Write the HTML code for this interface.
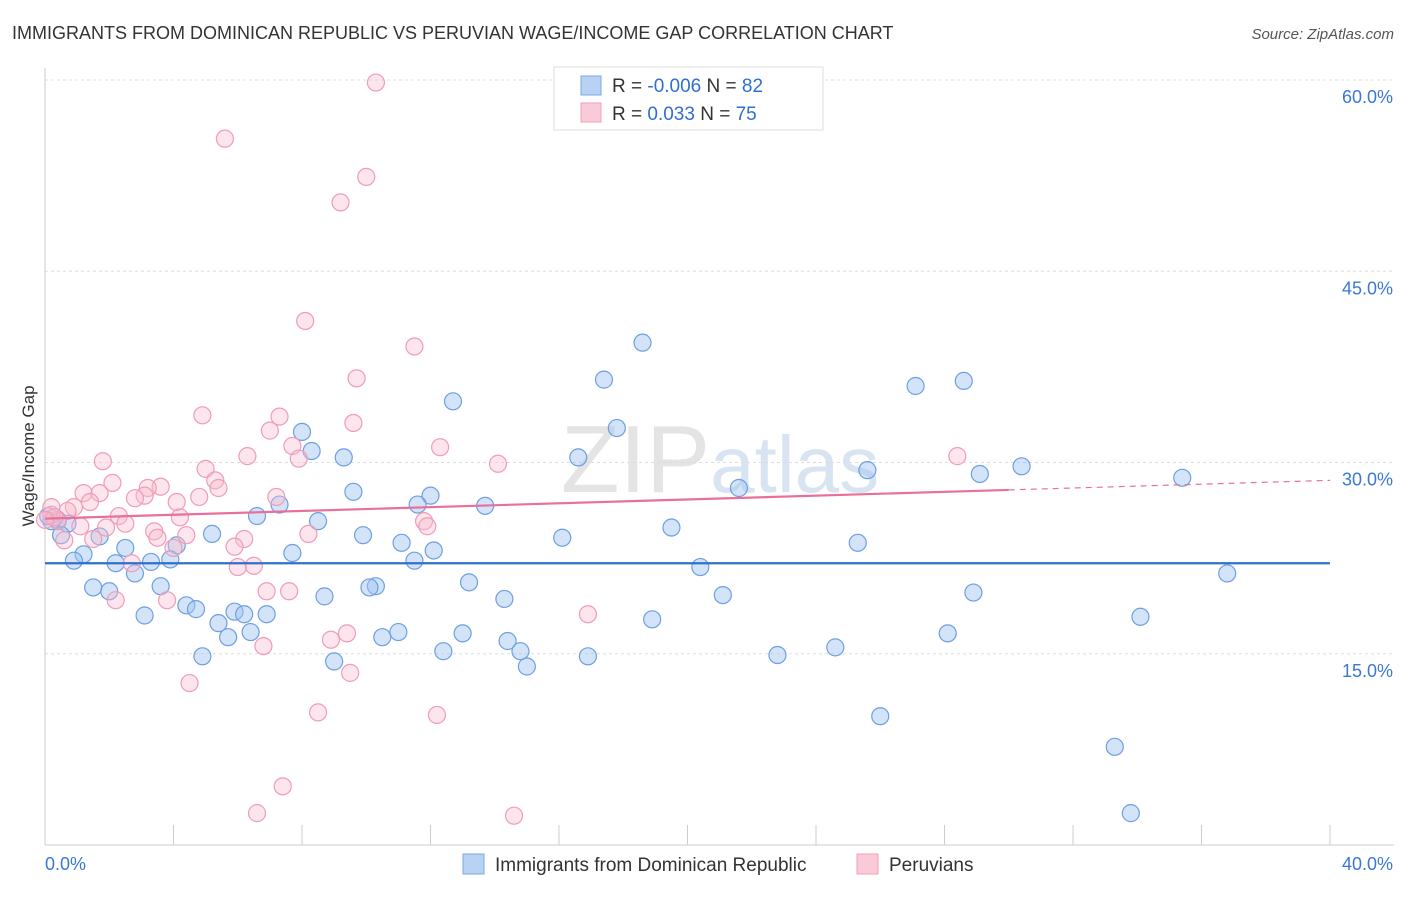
<!DOCTYPE html>
<html><head><meta charset="utf-8">
<style>
body{margin:0;background:#fff;font-family:"Liberation Sans",sans-serif;}
svg text{font-family:"Liberation Sans",sans-serif;}
</style></head>
<body>
<svg id="chart" width="1406" height="892" xmlns="http://www.w3.org/2000/svg">
<text x="12" y="39" font-size="18" fill="#333">IMMIGRANTS FROM DOMINICAN REPUBLIC VS PERUVIAN WAGE/INCOME GAP CORRELATION CHART</text>
<text x="1394" y="39" font-size="15" fill="#555" text-anchor="end" font-style="italic">Source: ZipAtlas.com</text>
<text x="720" y="492" font-size="96" fill="#e4e4e4" text-anchor="middle" font-family="Liberation Serif">ZIP<tspan fill="#d8e4f2" font-family="Liberation Sans" font-size="80">atlas</tspan></text>
<g id="grid"></g>
<g id="axes"></g>
<g id="pts"></g>
<g id="trends"></g>
<text transform="translate(34,456) rotate(-90)" font-size="17" fill="#333" text-anchor="middle">Wage/Income Gap</text>
<g>
<rect x="554" y="67" width="269" height="63" fill="#fff" stroke="#ddd"/>
<rect x="581" y="76" width="20" height="19" fill="#b8d2f4" stroke="#7aa7e3"/>
<rect x="581" y="103" width="20" height="19" fill="#fbcad8" stroke="#f0a0b8"/>
<text x="612" y="92" font-size="19" fill="#333">R = <tspan fill="#2f6fd0">-0.006</tspan>   N = <tspan fill="#2f6fd0">82</tspan></text>
<text x="612" y="120" font-size="19" fill="#333">R =  <tspan fill="#2f6fd0">0.033</tspan>   N = <tspan fill="#2f6fd0">75</tspan></text>
</g>
<g>
<rect x="463" y="854" width="21" height="20" fill="#b8d2f4" stroke="#7aa7e3"/>
<text x="495" y="871" font-size="19" fill="#333">Immigrants from Dominican Republic</text>
<rect x="857" y="854" width="21" height="20" fill="#fbcad8" stroke="#f0a0b8"/>
<text x="889" y="871" font-size="19" fill="#333">Peruvians</text>
</g>
</svg>
<script>
const yTicks=[15,30,45,60];
const yTickLabels=["15.0%","30.0%","45.0%","60.0%"];
const xTickLabels=["0.0%","40.0%"];
const blueX=[8.0,8.3,9.3,9.6,12.7,12.0,11.6,13.7,9.9,11.1,12.1,11.5,13.2,10.3,10.1,8.7,14.3,13.0,11.0,10.5,12.4,14.4,14.8,15.0,16.9,9.0,18.6,17.4,17.8,16.6,16.1,19.5,20.4,21.1,21.6,18.9,22.8,24.6,25.3,25.6,26.0,27.1,28.6,29.1,30.4,28.9,28.1,34.1,33.3,33.8,35.4,36.8,6.6,7.3,8.5,7.7,5.2,4.1,3.9,3.6,4.4,4.7,5.4,5.7,5.9,6.2,6.4,6.9,4.9,3.3,3.1,2.8,2.5,2.2,2.0,1.5,1.7,1.2,0.9,0.7,0.4,0.5,0.2,0.1];
const blueY=[32.4,30.9,30.4,27.7,34.8,27.4,26.7,26.6,24.3,23.7,23.1,22.3,20.6,20.3,20.2,19.5,19.3,16.6,16.7,16.3,15.2,16.0,15.2,14.0,14.8,14.4,39.4,36.5,32.7,30.4,24.1,24.9,21.8,19.6,28.0,17.7,14.9,15.5,23.7,29.4,10.1,36.0,36.4,29.1,29.7,19.8,16.6,17.9,7.7,2.5,28.8,21.3,25.8,26.7,25.4,22.9,24.4,23.5,22.4,20.3,18.8,18.5,17.4,16.3,18.3,18.1,16.7,18.1,14.8,22.2,18.0,21.3,23.3,22.1,19.9,20.2,24.2,22.8,22.3,25.2,25.5,24.3,25.4,25.8];
const pinkX=[10.3,5.6,10.0,9.2,8.1,11.5,9.7,4.9,7.3,9.6,7.0,12.3,7.7,6.3,7.9,14.1,1.8,5.0,2.1,3.6,5.3,5.4,3.2,3.1,2.8,4.8,1.2,1.7,7.2,1.4,4.1,0.9,0.7,2.3,4.2,2.5,1.9,1.1,0.4,0.2,11.8,11.9,8.2,3.4,3.5,4.4,6.2,5.9,1.5,0.6,4.0,2.7,6.5,6.0,6.9,7.6,2.2,3.8,16.9,9.4,8.9,6.8,9.5,4.5,8.5,12.2,7.4,6.6,14.6,28.4,0.2,0.3,0.0];
const pinkY=[59.8,55.4,52.4,50.4,41.1,39.1,36.6,33.7,33.6,33.1,32.5,31.2,31.3,30.5,30.3,29.9,30.1,29.5,28.4,28.1,28.6,28.0,28.0,27.4,27.2,27.3,27.6,27.6,27.3,26.9,26.9,26.5,26.2,25.8,25.7,25.2,24.9,25.0,25.4,25.9,25.4,25.0,24.4,24.6,24.1,24.3,24.0,23.4,24.0,23.9,23.3,22.1,21.9,21.8,19.9,19.9,19.2,19.2,18.1,16.6,16.1,15.6,13.5,12.7,10.4,10.2,4.6,2.5,2.3,30.5,26.5,25.7,25.5];
const blueTrend=[22.1,22.1];
const pinkTrend=[25.6,28.6];
const pinkSolidEnd=30.0;

const NS="http://www.w3.org/2000/svg";
const X0=45,X1=1330,Y0=845,Y60=80;
const sx=v=>X0+(v/40)*(X1-X0);
const sy=v=>Y0-(v/60)*(Y0-Y60);
function mk(tag,at,parent){const e=document.createElementNS(NS,tag);for(const k in at)e.setAttribute(k,at[k]);parent.appendChild(e);return e;}
const grid=document.getElementById('grid'),axes=document.getElementById('axes'),pts=document.getElementById('pts'),tr=document.getElementById('trends');
yTicks.forEach((t,i)=>{
  const l=mk('line',{x1:X0,x2:1394,y1:sy(t),y2:sy(t),stroke:'#ddd','stroke-dasharray':'3,3'},grid);
  
  
  const tx=mk('text',{x:1393,y:sy(t)+23,'font-size':18,fill:'#3a78d4','text-anchor':'end'},axes);
  tx.textContent=yTickLabels[i];
  
  
});
const ax=mk('line',{x1:X0,x2:X0,y1:68,y2:Y0,stroke:'#ccc'},axes);


const bx=mk('line',{x1:X0,x2:1394,y1:Y0,y2:Y0,stroke:'#ccc'},axes);


for(let i=0;i<=10;i++){
  const t=mk('line',{x1:sx(i*4),x2:sx(i*4),y1:Y0,y2:Y0-20,stroke:'#ccc'},axes);
  
  
}
[[0,'start'],[40,'end']].forEach((p,i)=>{
  const tx=mk('text',{x:i?1393:45,y:870,'font-size':18,fill:'#3a78d4','text-anchor':p[1]},axes);
  tx.textContent=xTickLabels[i];
  
  
});
blueX.forEach((x,i)=>{
  const c=mk('circle',{cx:sx(x),cy:sy(blueY[i]),r:8.5,fill:'rgba(160,196,240,0.45)',stroke:'#6d9fe2','stroke-width':1.2},pts);
  
  
});
pinkX.forEach((x,i)=>{
  const c=mk('circle',{cx:sx(x),cy:sy(pinkY[i]),r:8.5,fill:'rgba(248,190,208,0.4)',stroke:'#f09cb6','stroke-width':1.2},pts);
  
  
});
const bl=mk('line',{x1:sx(0),x2:sx(40),y1:sy(blueTrend[0]),y2:sy(blueTrend[1]),stroke:'#2f6fd0','stroke-width':2.2},tr);


const pAt=x=>pinkTrend[0]+(pinkTrend[1]-pinkTrend[0])*x/40;
const pl=mk('line',{x1:sx(0),x2:sx(pinkSolidEnd),y1:sy(pAt(0)),y2:sy(pAt(pinkSolidEnd)),stroke:'#e8709a','stroke-width':2.2},tr);


const pd=mk('line',{x1:sx(pinkSolidEnd),x2:sx(40),y1:sy(pAt(pinkSolidEnd)),y2:sy(pAt(40)),stroke:'#e8709a','stroke-width':1.2,'stroke-dasharray':'6,5'},tr);


</script>
</body></html>
